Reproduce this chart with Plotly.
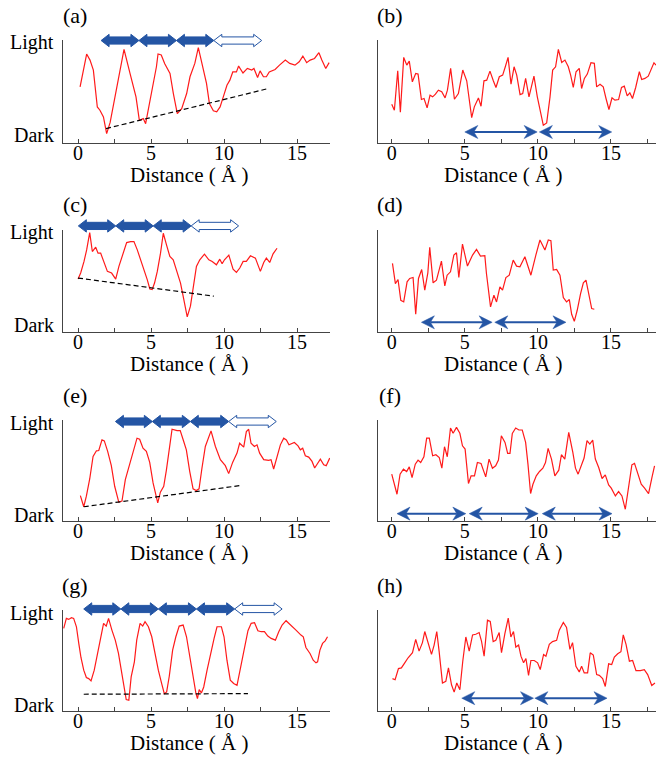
import plotly.graph_objects as go

# ---------------- data (distance in Å, brightness 0=Dark .. 100=Light) ----------------
a_x = [0.14, 0.59, 0.82, 1.05, 1.32, 1.5, 1.74, 1.96, 2.2, 2.65, 3.15, 3.56, 3.97, 4.2, 4.47, 4.63, 4.93, 5.16, 5.37, 5.48, 5.7, 5.94, 6.3, 6.53, 6.8, 7.1, 7.44, 7.67, 8.0, 8.24, 8.47, 8.8, 9.0, 9.27, 9.5, 9.73, 9.95, 10.2, 10.4, 10.6, 10.85, 11.0, 11.3, 11.6, 11.9, 12.05, 12.3, 12.47, 12.7, 12.9, 13.1, 13.5, 13.8, 14.2, 14.5, 14.86, 15.15, 15.4, 15.66, 15.9, 16.2, 16.5, 16.7, 16.97, 17.2]
a_y = [54.5, 86.4, 80.5, 70.8, 35, 31.8, 25.3, 9.1, 20, 54.5, 90.9, 67.5, 44.8, 22, 23.7, 18.8, 41.6, 56, 74, 86.4, 85.4, 77, 67.5, 48, 28.6, 33.4, 48, 64.3, 77.3, 92.5, 77.3, 57.8, 38.3, 31.2, 30.2, 35, 44.8, 56, 61, 69, 69, 74.7, 68, 72.4, 70.8, 72.4, 63.6, 70, 64.3, 64.3, 69, 71.4, 75.6, 80.5, 77.3, 75.6, 78.9, 84.4, 78, 80.5, 82.1, 87.7, 80.5, 72.4, 78]

b_x = [0, 0.18, 0.41, 0.59, 0.82, 1.03, 1.2, 1.41, 1.64, 1.8, 2.03, 2.21, 2.42, 2.62, 2.8, 2.99, 3.19, 3.42, 3.65, 3.81, 4.03, 4.29, 4.56, 4.86, 5.13, 5.47, 5.65, 5.93, 6.11, 6.31, 6.5, 6.72, 6.95, 7.13, 7.36, 7.59, 7.77, 7.96, 8.16, 8.37, 8.55, 8.78, 8.96, 9.16, 9.39, 9.73, 9.96, 10.19, 10.37, 10.6, 10.83, 11.01, 11.21, 11.4, 11.63, 11.85, 12.08, 12.24, 12.42, 12.61, 12.83, 12.99, 13.18, 13.38, 13.63, 13.86, 14.02, 14.25, 14.47, 14.66, 14.86, 15.07, 15.27, 15.52, 15.72, 15.91, 16.11, 16.29, 16.47, 16.69, 16.94, 17.1, 17.32, 17.55, 17.71, 17.94, 18.08]
b_y = [37.7, 31.8, 70.1, 29.9, 83.1, 75.6, 79.5, 59.4, 67.5, 66.9, 42.2, 43.2, 34.1, 46.4, 44.8, 47.4, 51.3, 49.7, 43.8, 51.3, 72.4, 42.5, 48, 70.8, 60.4, 24.7, 35.1, 43.8, 35.7, 60.4, 61, 69.8, 60.4, 53.9, 64.3, 65.9, 74, 83.1, 57.1, 74, 65.9, 47, 48, 62.7, 44.8, 64.9, 44.8, 30.2, 17.2, 19.5, 44.8, 70.8, 74, 90.9, 78.2, 80.5, 74, 65.9, 53.9, 69.2, 72.4, 52.9, 62.7, 66.9, 77.9, 77.3, 54.5, 57.1, 54.5, 43.2, 32.5, 43.8, 41.6, 42.2, 53.9, 55.2, 45.8, 48.7, 43.2, 53.9, 69.2, 61.7, 62.7, 64.9, 70.1, 77.9, 75.6]

c_x = [0, 0.18, 0.41, 0.59, 0.8, 0.98, 1.21, 1.37, 1.55, 1.78, 2.01, 2.3, 2.58, 2.8, 3.03, 3.33, 3.6, 3.83, 4.06, 4.29, 4.56, 4.74, 4.92, 5.08, 5.24, 5.43, 5.65, 5.84, 6.06, 6.29, 6.52, 6.75, 7.02, 7.2, 7.36, 7.48, 7.7, 7.89, 8.11, 8.34, 8.66, 8.96, 9.19, 9.48, 9.71, 9.87, 10.03, 10.33, 10.62, 10.85, 11.08, 11.31, 11.53, 11.81, 12.15, 12.49, 12.72, 12.9, 13.13, 13.36, 13.63]
c_y = [51.9, 57.8, 69.2, 80.5, 97.4, 78.9, 83.1, 77.3, 77.3, 69.2, 59.4, 57.8, 51.9, 64.3, 75.6, 87.7, 88.6, 88.6, 80.5, 70.8, 61, 51.3, 42.2, 41.6, 48, 59.4, 77.3, 96.8, 85.4, 74, 70.8, 61, 48, 35.1, 22.1, 14.9, 25.3, 44.8, 64.3, 70.8, 76.3, 70.8, 69.2, 65.9, 71.4, 66.9, 70.8, 75.3, 61.7, 58.4, 62.7, 69.2, 69.2, 74.7, 72.4, 59.4, 68.2, 72.4, 68.2, 76.6, 82.1]

d_x = [0.05, 0.25, 0.43, 0.62, 0.82, 1.05, 1.23, 1.46, 1.64, 1.83, 2.05, 2.26, 2.47, 2.6, 2.83, 3.06, 3.4, 3.63, 3.79, 4.02, 4.25, 4.43, 4.59, 4.84, 5.18, 5.53, 5.8, 6.07, 6.37, 6.48, 6.76, 6.99, 7.17, 7.4, 7.58, 7.81, 8.04, 8.31, 8.54, 8.77, 9.11, 9.52, 9.86, 10.14, 10.48, 10.71, 10.89, 11.05, 11.28, 11.51, 11.74, 11.96, 12.15, 12.31, 12.49, 12.69, 12.92, 13.11, 13.29, 13.52, 13.68, 13.86]
d_y = [67.2, 47.5, 51.5, 31.1, 29.5, 49.2, 52.5, 53.4, 17.4, 52.5, 61.3, 41, 58, 83, 48.2, 50.8, 69.5, 45.2, 55.7, 59, 75.4, 77.7, 53.4, 86.2, 64.6, 75.4, 81, 74.4, 74.8, 57.4, 24.6, 36.1, 29.5, 44.3, 41, 53.4, 55.7, 70.5, 64.6, 63.9, 73.8, 55.7, 75.4, 90.2, 80.3, 90.2, 89.5, 60.7, 61.3, 55.7, 33.8, 29.5, 31.8, 17.4, 10.5, 21.3, 37.7, 48.2, 50.8, 34.4, 23, 22.3]

e_x = [0.16, 0.39, 0.57, 0.8, 1.03, 1.26, 1.42, 1.64, 1.8, 2.03, 2.28, 2.51, 2.79, 3.01, 3.24, 3.47, 3.77, 4.04, 4.22, 4.45, 4.68, 4.91, 5.14, 5.3, 5.46, 5.64, 5.87, 6.05, 6.28, 6.44, 6.78, 7.0, 7.24, 7.42, 7.65, 7.88, 8.1, 8.29, 8.49, 8.72, 9.11, 9.41, 9.75, 10.09, 10.32, 10.59, 10.89, 11.07, 11.35, 11.53, 11.69, 11.85, 12.08, 12.26, 12.44, 12.72, 13.06, 13.22, 13.4, 13.63, 13.86, 14.09, 14.27, 14.45, 14.66, 14.82, 15.07, 15.23, 15.39, 15.57, 15.8, 16.03, 16.21, 16.37, 16.6, 16.83, 17.0, 17.24]
e_y = [25.2, 14.1, 24.6, 41.6, 63.9, 69.5, 69.8, 80.3, 79.3, 68.9, 54.8, 34.4, 18.7, 19.7, 41, 53.4, 67.9, 82, 81, 72.1, 68.9, 58, 37.7, 26.2, 18, 28.5, 34.4, 50.2, 73.8, 90.8, 89.5, 89.5, 78.7, 70.5, 49.2, 31.8, 30.2, 31.8, 52.5, 73.8, 89.2, 73.8, 60.7, 54.8, 46.9, 58, 67.2, 77, 73.1, 88.5, 90.8, 77, 73.8, 75.4, 67.2, 60.7, 60, 60.7, 51.5, 62.3, 75.4, 82, 80.3, 75.4, 77, 77.7, 74.4, 70.5, 72.1, 64.6, 63.3, 59, 52.5, 55.7, 61.3, 55.7, 54.8, 62.3]

f_x = [0, 0.2, 0.36, 0.57, 0.8, 1.02, 1.2, 1.39, 1.61, 1.8, 1.98, 2.2, 2.39, 2.57, 2.8, 3.02, 3.25, 3.43, 3.61, 3.8, 4.02, 4.2, 4.43, 4.66, 4.84, 5.02, 5.25, 5.43, 5.66, 5.86, 6.11, 6.43, 6.66, 6.89, 7.11, 7.3, 7.5, 7.75, 7.93, 8.09, 8.25, 8.48, 8.7, 8.93, 9.16, 9.32, 9.5, 9.66, 9.89, 10.11, 10.34, 10.52, 10.7, 10.93, 11.16, 11.43, 11.61, 11.84, 12.11, 12.39, 12.57, 12.75, 12.98, 13.16, 13.36, 13.55, 13.75, 13.93, 14.16, 14.39, 14.61, 14.84, 15.02, 15.3, 15.52, 15.75, 15.98, 16.16, 16.43, 16.61, 16.84, 17.07, 17.3, 17.57, 17.8, 17.98]
f_y = [46.4, 34.8, 26.5, 46.4, 51.3, 49, 53.6, 43, 56.3, 60.3, 57.9, 63.6, 82.1, 82.1, 64.6, 65.6, 62.9, 52.3, 73.5, 63.6, 92.1, 86.8, 92.7, 86.8, 74.5, 71.2, 37.1, 44.7, 44.7, 57.9, 57, 43.7, 61.3, 52.3, 54.6, 60.3, 84.4, 77.8, 66.9, 66.9, 86.8, 92.1, 90.1, 90.1, 77.8, 56.3, 27.2, 36.4, 44.7, 49, 52.3, 57.9, 71.9, 61.3, 44.7, 50.3, 65.6, 61.3, 87.7, 67.9, 52.3, 46.4, 56.3, 62.3, 79.5, 76.2, 80.1, 61.3, 53, 42.1, 45.7, 35.8, 32.5, 24.8, 29.1, 24.8, 11.6, 28.1, 55.6, 57, 47, 36.4, 32.5, 27.2, 43, 54.6]

g_x = [-0.98, -0.8, -0.64, -0.45, -0.3, -0.11, 0.05, 0.2, 0.39, 0.57, 0.73, 0.89, 1.11, 1.34, 1.57, 1.75, 1.93, 2.09, 2.32, 2.55, 2.77, 3.0, 3.16, 3.3, 3.48, 3.64, 3.86, 4.02, 4.25, 4.43, 4.59, 4.82, 5.05, 5.27, 5.5, 5.73, 5.91, 6.07, 6.25, 6.48, 6.7, 6.93, 7.2, 7.43, 7.61, 7.84, 8.07, 8.18, 8.3, 8.45, 8.61, 8.84, 9.07, 9.32, 9.52, 9.82, 10.0, 10.2, 10.43, 10.66, 10.89, 11.11, 11.36, 11.64, 11.86, 12.09, 12.32, 12.55, 12.77, 13.0, 13.23, 13.52, 13.75, 13.98, 14.25, 14.59, 14.93, 15.27, 15.43, 15.61, 15.89, 16.11, 16.3, 16.41, 16.57, 16.75, 16.93, 17.09]
g_y = [81.8, 91.7, 90.7, 92.4, 91.7, 83.4, 66.9, 53, 40.4, 33.1, 32.1, 29.8, 40.4, 57, 73.5, 86.8, 84.1, 91.7, 80.1, 70.2, 57, 37.1, 25.5, 11.3, 10.6, 33.8, 48.7, 70.2, 86.8, 84.1, 88.4, 83.4, 73.5, 57, 40.4, 27.2, 17.2, 18.9, 34.4, 60.3, 73.5, 84.1, 85.1, 73.5, 57, 35.4, 17.9, 12.3, 21.2, 17.9, 23.8, 40.4, 57, 71.9, 83.4, 83.4, 73.5, 50.3, 30.5, 27.2, 25.5, 40.4, 60.3, 79.5, 86.8, 87.4, 79.5, 78.5, 78.5, 74.2, 71.9, 70.2, 78.5, 85.1, 89.4, 85.1, 80.1, 75.2, 73.5, 62.9, 57, 50.3, 47.7, 48.7, 60.3, 66.9, 69.5, 73.5]

h_x = [0.05, 0.23, 0.46, 0.66, 0.89, 1.12, 1.42, 1.64, 1.87, 2.1, 2.26, 2.49, 2.72, 2.9, 3.08, 3.24, 3.47, 3.7, 3.88, 4.09, 4.27, 4.45, 4.66, 4.86, 5.07, 5.3, 5.53, 5.75, 5.98, 6.14, 6.32, 6.55, 6.74, 6.94, 7.12, 7.35, 7.51, 7.74, 7.97, 8.15, 8.33, 8.49, 8.68, 8.84, 9.02, 9.18, 9.36, 9.52, 9.75, 9.98, 10.16, 10.39, 10.55, 10.78, 11.0, 11.28, 11.46, 11.74, 11.96, 12.19, 12.37, 12.6, 12.83, 12.99, 13.17, 13.4, 13.58, 13.79, 14.02, 14.2, 14.43, 14.61, 14.84, 15.05, 15.23, 15.46, 15.68, 15.84, 16.03, 16.26, 16.48, 16.71, 17.01, 17.28, 17.51, 17.79, 18.01]
h_y = [32, 31, 42, 42.7, 47.7, 52.7, 57.7, 71, 59.3, 67.7, 78.7, 67.7, 56, 65.3, 78.7, 59.3, 27.7, 29.3, 42.7, 26, 18.7, 27.7, 21, 49.3, 73.3, 59.3, 75.3, 76, 77.7, 69.3, 54.3, 90, 88.7, 68.7, 70, 77.7, 57.7, 76.7, 92, 73.3, 78.7, 63.3, 65.3, 54.3, 47.7, 52, 35.3, 50, 50, 47.7, 41, 56, 54.3, 66, 68.7, 70, 80, 87.7, 82.7, 61, 67.7, 44.3, 38.7, 44.3, 37.7, 37.7, 57.7, 55.3, 36, 35.3, 32, 24.3, 46.7, 46, 53.3, 56.7, 58.7, 75.3, 66, 49.3, 50, 40, 40, 41, 36, 25.3, 27.7]

# dashed guide lines: (x0, y0, x1, y1)
dash_a = [1.92, 14, 13.04, 52.9]
dash_c = [0, 52.9, 9.3, 35.1]
dash_e = [0.39, 14.1, 11.12, 35.1]
dash_g = [0.39, 16.6, 11.64, 17.2]

# block arrows above left panels: segment bounds, last one hollow
arrows_a = [1.58, 4.17, 6.74, 9.3, 12.58]
arrows_c = [0.02, 2.58, 5.15, 7.75, 11.0]
arrows_e = [2.56, 5.09, 7.69, 10.32, 13.58]
arrows_g = [0.39, 2.93, 5.5, 8.11, 10.73, 13.98]
arrow_level = {"a": 99.5, "c": 104, "e": 98.5, "g": 101}

# thin double arrows in right panels: (x0, x1)
arrows_b = [(5.0, 9.95), (10.1, 15.05)]
arrows_d = [(2.03, 6.87), (7.05, 11.92)]
arrows_f = [(0.36, 5.07), (5.3, 10.02), (10.3, 15.07)]
arrows_h = [(4.79, 9.7), (9.79, 14.73)]
thin_level = {"b": 10.7, "d": 9.5, "f": 7.3, "h": 12.7}

y_labels = ["Light", "Dark"]

panels = ["a", "b", "c", "d", "e", "f", "g", "h"]
series = {"a": (a_x, a_y), "b": (b_x, b_y), "c": (c_x, c_y), "d": (d_x, d_y),
          "e": (e_x, e_y), "f": (f_x, f_y), "g": (g_x, g_y), "h": (h_x, h_y)}
dashes = {"a": dash_a, "c": dash_c, "e": dash_e, "g": dash_g}
blocks = {"a": arrows_a, "c": arrows_c, "e": arrows_e, "g": arrows_g}
thins = {"b": arrows_b, "d": arrows_d, "f": arrows_f, "h": arrows_h}

tick_vals = [0, 2.5, 5, 7.5, 10, 12.5, 15, 17.5]
tick_text = ["0", "", "5", "", "10", "", "15", ""]

# ---------------- layout geometry ----------------
W, H = 656, 759
col_px = [(63, 330), (378, 656)]
row_px = [(40, 143), (230, 332), (420, 521), (610, 711)]
x_ranges = [(-1.03, 17.26), (-0.94, 18.08)]
y_range = (0, 100)

FONT = "Liberation Serif"
BLUE = "#2455a4"
RED = "#ff1a1a"
AX = "#444444"

fig = go.Figure()
layout = dict(width=W, height=H, margin=dict(l=0, r=0, t=0, b=0),
              paper_bgcolor="white", plot_bgcolor="white", showlegend=False,
              font=dict(family=FONT, size=20, color="black"))
shapes = []
annotations = []

for i, p in enumerate(panels):
    r, c = divmod(i, 2)
    xs = "" if i == 0 else str(i + 1)
    xname, yname = "x" + xs, "y" + xs
    (cx0, cx1), (ry0, ry1) = col_px[c], row_px[r]
    xr = x_ranges[c]
    hpx = ry1 - ry0
    layout["xaxis" + xs] = dict(
        domain=[cx0 / W, cx1 / W], range=list(xr), anchor=yname,
        showline=True, linecolor=AX, linewidth=1.4, showgrid=False, zeroline=False,
        ticks="inside", ticklen=4, tickwidth=1.2, tickcolor=AX,
        tickvals=tick_vals, ticktext=tick_text, ticklabelstandoff=-8,
        tickfont=dict(size=20, family=FONT))
    layout["yaxis" + xs] = dict(
        domain=[1 - ry1 / H, 1 - ry0 / H], range=list(y_range), anchor=xname,
        showline=True, linecolor=AX, linewidth=1.4, showgrid=False, zeroline=False,
        ticks="", showticklabels=False)

    if c == 0:
        for lab, ypix in zip(y_labels, (3, 95)):
            annotations.append(dict(text=lab, xref=xname + " domain", yref=yname + " domain",
                                    x=0, y=1 - ypix / hpx, xanchor="right", yanchor="middle",
                                    xshift=-7, showarrow=False, font=dict(size=20, family=FONT)))

    xv, yv = series[p]
    fig.add_trace(go.Scatter(x=xv, y=yv, xaxis=xname, yaxis=yname, mode="lines",
                             line=dict(color=RED, width=1.2), hoverinfo="skip"))
    if p in dashes:
        d = dashes[p]
        fig.add_trace(go.Scatter(x=[d[0], d[2]], y=[d[1], d[3]], xaxis=xname, yaxis=yname,
                                 mode="lines", line=dict(color="black", width=1.2, dash="5px,3px"),
                                 hoverinfo="skip"))

    dx = (xr[1] - xr[0]) / (cx1 - cx0)      # data units per pixel (x)
    dy = 1.0 / hpx                           # domain units per pixel (y)
    xref, yref = xname, yname + " domain"

    if p in blocks:
        b = blocks[p]
        yc = arrow_level[p] / 100.0
        hl, hh, sh = 8 * dx, 6.2 * dy, 3.6 * dy
        for k in range(len(b) - 1):
            x0, x1 = b[k], b[k + 1]
            hollow = (k == len(b) - 2)
            pts = [(x0, yc), (x0 + hl, yc + hh), (x0 + hl, yc + sh), (x1 - hl, yc + sh),
                   (x1 - hl, yc + hh), (x1, yc), (x1 - hl, yc - hh), (x1 - hl, yc - sh),
                   (x0 + hl, yc - sh), (x0 + hl, yc - hh)]
            path = "M " + " L ".join(f"{px:.4f},{py:.4f}" for px, py in pts) + " Z"
            shapes.append(dict(type="path", path=path, xref=xref, yref=yref,
                               fillcolor="white" if hollow else BLUE,
                               line=dict(color=BLUE, width=1), layer="above"))
    if p in thins:
        yc = thin_level[p] / 100.0
        hl, notch, hh = 13 * dx, 9 * dx, 6.5 * dy
        for (x0, x1) in thins[p]:
            shapes.append(dict(type="line", x0=x0 + notch, x1=x1 - notch, y0=yc, y1=yc,
                               xref=xref, yref=yref, line=dict(color=BLUE, width=2),
                               layer="above"))
            for tip, sgn in ((x0, 1), (x1, -1)):
                pts = [(tip, yc), (tip + sgn * hl, yc + hh), (tip + sgn * notch, yc),
                       (tip + sgn * hl, yc - hh)]
                path = "M " + " L ".join(f"{px:.4f},{py:.4f}" for px, py in pts) + " Z"
                shapes.append(dict(type="path", path=path, xref=xref, yref=yref,
                                   fillcolor=BLUE, line=dict(color=BLUE, width=0.5),
                                   layer="above"))

    # panel label
    annotations.append(dict(text=f"({p})", xref=xname + " domain", yref=yname + " domain",
                            x=12 / (cx1 - cx0), y=1 + 25 / hpx,
                            xanchor="center", yanchor="middle", showarrow=False,
                            font=dict(size=22, family=FONT)))
    # axis title
    annotations.append(dict(text="Distance ( Å )", xref=xname, yref=yname + " domain",
                            x=7.6, y=-32 / hpx, xanchor="center", yanchor="middle",
                            showarrow=False, font=dict(size=21, family=FONT)))

layout["shapes"] = shapes
layout["annotations"] = annotations
fig.update_layout(**layout)
fig.write_html("out.html")
